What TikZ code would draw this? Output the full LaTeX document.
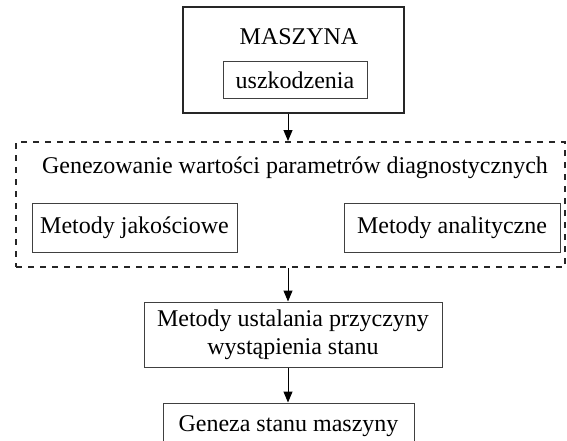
\documentclass[tikz,border=0pt]{standalone}
\usepackage{fontspec}
\setmainfont{Liberation Serif}
\usepackage{tikz}
\usetikzlibrary{arrows.meta, positioning}

\tikzset{
  blok/.style={draw=black!75, line width=1pt, rectangle, inner sep=0pt,
    font=\fontsize{24}{27}\selectfont},
  napis/.style={inner sep=0pt, font=\fontsize{24}{27}\selectfont},
  strzalka/.style={line width=1pt, -{Triangle[length=11pt,width=9pt]}}
}

\begin{document}
\begin{tikzpicture}[x=1pt,y=-1pt]
                \useasboundingbox (0,0) rectangle (567,441);
                \clip (0,0) rectangle (567,441);
                % maszyna
                \node[draw=black!85, line width=2.5pt, minimum width=221pt, minimum height=106pt] (maszyna) at (293.5,60) {};
                \node[napis] (maszynatxt) at (299,37) {MASZYNA};
                \node[blok, minimum width=144pt, minimum height=37pt] (uszk) at (295,80.5) {uszkodzenia};
                % ramka przerywana
                \node[draw=black!85, line width=2pt, dash pattern=on 6pt off 6pt,
                    minimum width=549pt, minimum height=125pt] (ramka) at (290.5,204.5) {};
                \node[napis] (genez) at (295,168) {Genezowanie wartości parametrów diagnostycznych};
                \node[blok, minimum width=205pt, minimum height=49pt] (jakosc) at (134.5,227.5) {Metody jakościowe};
                \node[blok, minimum width=216pt, minimum height=49pt] (anal) at (452,227.5) {Metody analityczne};
                % dol
                \node[blok, minimum width=298pt, minimum height=65pt, align=center] (ustal) at (293,334.5)
                    {Metody ustalania przyczyny\\[1pt]wystąpienia stanu};
                \node[blok, minimum width=251pt, minimum height=46pt] (geneza) at (288.5,426) {Geneza stanu maszyny};
                \draw[strzalka] ([xshift=-5.5pt]maszyna.south) -- ([xshift=-5.5pt]maszyna.south |- ramka.north);
                \draw[strzalka] ([xshift=-2.5pt]ramka.south) -- ([xshift=-2.5pt]ramka.south |- ustal.north);
                \draw[strzalka] ([xshift=-5pt]ustal.south) -- ([xshift=-5pt]ustal.south |- geneza.north);
            \end{tikzpicture}
\end{document}
